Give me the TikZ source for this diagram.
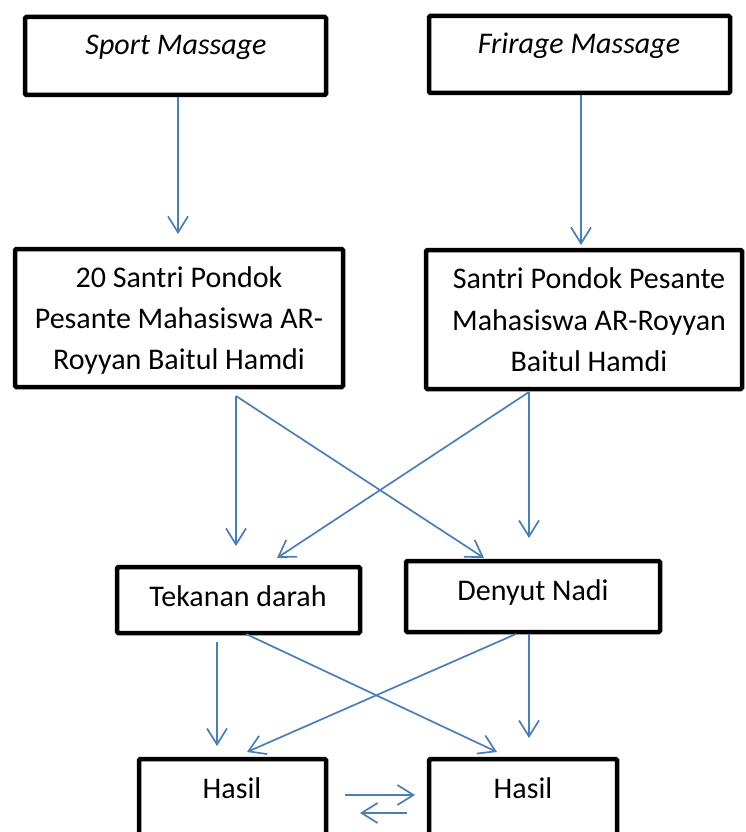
\documentclass[tikz,border=0pt]{standalone}
\usepackage{fontspec}
\setmainfont{Carlito}
\usetikzlibrary{arrows.meta}
\definecolor{arrowblue}{HTML}{4A7EBB}
\tikzset{
  box/.style={draw=black, line width=4.5pt, rounded corners=1.2pt, fill=white, inner sep=0pt},
  txt/.style={anchor=base, inner sep=0pt, font=\fontsize{30}{36}\selectfont},
  itxt/.style={txt, font=\fontsize{30}{36}\selectfont\itshape},
  conn/.style={draw=arrowblue, line width=1.7pt, -{Straight Barb[length=16pt,width=20pt,line width=1.7pt]}}
}
\begin{document}
\begin{tikzpicture}[x=1pt,y=-1pt]
\useasboundingbox (0,0) rectangle (745,832);
\clip (0,0) rectangle (745,832);
% boxes
\node[box, minimum width=301pt, minimum height=78pt] (b1) at (175.5,56) {};
\node[box, minimum width=301pt, minimum height=77pt] (b2) at (579.5,54.5) {};
\node[box, minimum width=328pt, minimum height=138pt] (b3) at (179,318) {};
\node[box, minimum width=316pt, minimum height=139pt] (b4) at (584,319.5) {};
\node[box, minimum width=243pt, minimum height=66pt] (b5) at (238.5,600) {};
\node[box, minimum width=254pt, minimum height=71pt] (b6) at (533,596.5) {};
\node[box, minimum width=187pt, minimum height=101pt] (b7) at (232.5,809.5) {};
\node[box, minimum width=188pt, minimum height=101pt] (b8) at (523,809.5) {};
% texts
\node[itxt] (t1) at (176,55) {Sport Massage};
\node[itxt] (t2) at (579,54) {Frirage Massage};
\node[txt] (t3a) at (179,287) {20 Santri Pondok};
\node[txt] (t3b) at (179,328) {Pesante Mahasiswa AR-};
\node[txt] (t3c) at (179,369) {Royyan Baitul Hamdi};
\node[txt] (t4a) at (589,288) {Santri Pondok Pesante};
\node[txt] (t4b) at (589,330) {Mahasiswa AR-Royyan};
\node[txt] (t4c) at (589,371) {Baitul Hamdi};
\node[txt] (t5) at (238,606) {Tekanan darah};
\node[txt] (t6) at (533,600) {Denyut Nadi};
\node[txt] (t7) at (232,798) {Hasil};
\node[txt] (t8) at (523,798) {Hasil};
% connector end points
\coordinate (p1s) at (178,97);  \coordinate (p1e) at (178,234);
\coordinate (p2s) at (581,95);  \coordinate (p2e) at (581,245);
\coordinate (p3s) at (236,396); \coordinate (p3e) at (236,546);
\coordinate (p4e) at (484,558);
\coordinate (p5s) at (529,392); \coordinate (p5e) at (529,538);
\coordinate (p6e) at (277,558);
\coordinate (p7s) at (217,642); \coordinate (p7e) at (217,746);
\coordinate (p8s) at (246,634); \coordinate (p8e) at (497,752);
\coordinate (p9s) at (529,634); \coordinate (p9e) at (529,738);
\coordinate (p10s) at (516,634); \coordinate (p10e) at (247,752);
\coordinate (p11s) at (345,795); \coordinate (p11e) at (415,795);
\coordinate (p12s) at (407,813); \coordinate (p12e) at (360,813);
% connectors
\draw[conn] (p1s) -- (p1e);
\draw[conn] (p2s) -- (p2e);
\draw[conn] (p3s) -- (p3e);
\draw[conn] (p3s) -- (p4e);
\draw[conn] (p5s) -- (p5e);
\draw[conn] (p5s) -- (p6e);
\draw[conn] (p7s) -- (p7e);
\draw[conn] (p8s) -- (p8e);
\draw[conn] (p9s) -- (p9e);
\draw[conn] (p10s) -- (p10e);
\draw[conn] (p11s) -- (p11e);
\draw[conn] (p12s) -- (p12e);
\end{tikzpicture}
\end{document}
